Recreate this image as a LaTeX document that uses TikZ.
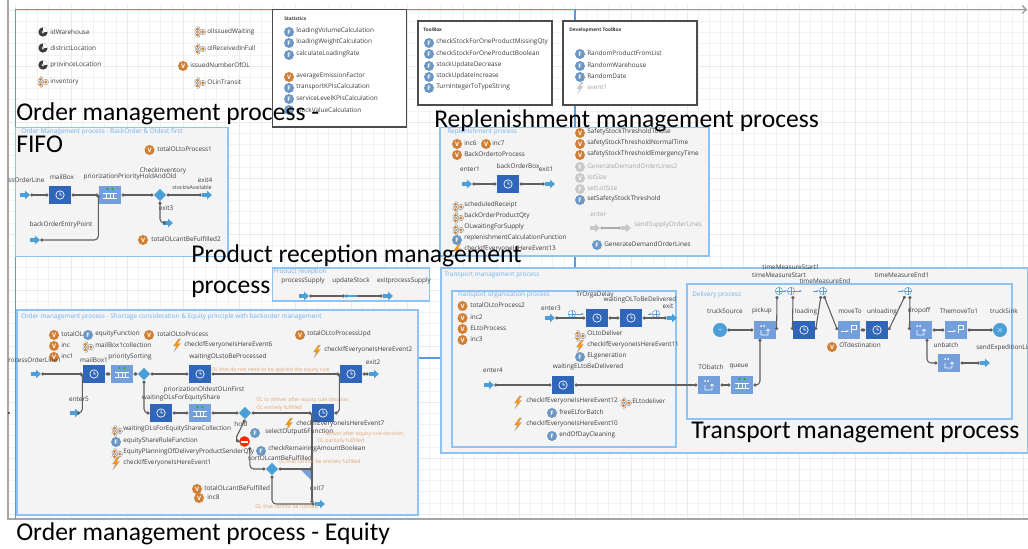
\documentclass[tikz,border=0pt]{standalone}
\usepackage{fontspec}
\newfontfamily\labfont{Open Sans}
\newfontfamily\bigfont{Carlito}
\usetikzlibrary{arrows.meta,shapes.geometric}
\definecolor{panelblue}{HTML}{8CC4F5}
\definecolor{panelgray}{HTML}{F4F4F4}
\definecolor{frameblue}{HTML}{5B9BD5}
\definecolor{gridminor}{HTML}{F2F2F2}
\definecolor{gridmajor}{HTML}{EAEAEA}
\definecolor{linegray}{HTML}{5F5F5F}
\definecolor{labgray}{HTML}{3C3C3C}
\definecolor{titleblue}{HTML}{6DB2F2}
\definecolor{dlyblue}{HTML}{2F66B9}
\definecolor{lightblue}{HTML}{739FDC}
\definecolor{arrowblue}{HTML}{4A9FD8}
\definecolor{varorange}{HTML}{D07F35}
\definecolor{fnblue}{HTML}{6C97C4}
\definecolor{notegold}{HTML}{DCA777}
\definecolor{paleicon}{HTML}{C8C8C8}
\tikzset{
  lab/.style={anchor=west,inner sep=0,text=labgray,font=\labfont\fontsize{4.8pt}{5pt}\selectfont},
  labc/.style={lab,anchor=center},
  palelab/.style={lab,text=gray!70},
  paneltitle/.style={lab,text=titleblue},
  notetext/.style={lab,text=notegold,font=\labfont\fontsize{3.9pt}{4.4pt}\selectfont},
  tinytitle/.style={lab,font=\labfont\bfseries\fontsize{3.6pt}{4pt}\selectfont},
  bigtext/.style={anchor=base west,inner sep=0,text=black,font=\bigfont\fontsize{19.2pt}{21pt}\selectfont},
  panel/.style={draw=panelblue,fill=panelgray,line width=1pt},
  toolbox/.style={draw=gray!60!black,fill=white,line width=.8pt},
  varicon/.style={circle,fill=varorange,text=white,inner sep=0,minimum size=7.5pt,font=\labfont\bfseries\fontsize{4.6pt}{5pt}\selectfont},
  fnicon/.style={varicon,fill=fnblue},
  paleicn/.style={varicon,fill=paleicon},
  paramicon/.style={circle,fill=labgray,inner sep=0,minimum size=7pt,
    path picture={\fill[white,shift={(path picture bounding box.center)}] (0,0) -- (0,-5) -- (5,-5) -- (5,0) -- cycle;
      \fill[gray!40,shift={(path picture bounding box.center)}] (0,0) circle [radius=1.6];}},
  collicon/.style={circle,inner sep=0,minimum size=9pt,
    path picture={\begin{scope}[shift={(path picture bounding box.center)}]
      \draw[gray,fill=white,line width=.3pt] (-2.6,-2.8) circle [radius=2.7];
      \draw[gray,fill=white,line width=.3pt] (-2.6,2.8) circle [radius=2.7];
      \draw[gray,fill=white,line width=.3pt] (2.8,0) circle [radius=2.7];
      \fill[varorange] (-2.6,-2.8) circle [radius=1.7] (-2.6,2.8) circle [radius=1.7] (2.8,0) circle [radius=1.7];
      \end{scope}}},
  evticon/.style={rectangle,inner sep=0,minimum width=7pt,minimum height=10pt,
    path picture={\fill[orange!85!yellow,draw=gray!70,line width=.2pt,shift={(path picture bounding box.center)}]
      (1.5,-6) -- (-3.5,1) -- (-.5,1) -- (-3,6.5) -- (3.5,-1.5) -- (.5,-1.5) -- (3.5,-6) -- cycle;}},
  paleevt/.style={rectangle,inner sep=0,minimum width=7pt,minimum height=10pt,
    path picture={\fill[paleicon,shift={(path picture bounding box.center)}]
      (1.5,-6) -- (-3.5,1) -- (-.5,1) -- (-3,6.5) -- (3.5,-1.5) -- (.5,-1.5) -- (3.5,-6) -- cycle;}},
  dlybox/.style={rectangle,fill=dlyblue,inner sep=0,minimum width=17pt,minimum height=12.8pt,
    path picture={\draw[white,line width=.5pt,shift={(path picture bounding box.center)}]
      (0,0) circle [radius=4.2] (0,-2.6) -- (0,0) -- (2,0);}},
  quebox/.style={rectangle,fill=lightblue,inner sep=0,minimum width=17pt,minimum height=12.8pt,
    path picture={\begin{scope}[shift={(path picture bounding box.center)}]
      \draw[white,line width=.5pt] (-7,-2) -- (7,-2) (-7,3) -- (7,3) (-3.5,-2) -- (-3.5,3) (0,-2) -- (0,3) (3.5,-2) -- (3.5,3);
      \fill[green!75!black] (-2.5,-6) circle [radius=1.2] (2.5,-6) circle [radius=1.2];
      \end{scope}}},
  batchbox/.style={rectangle,fill=lightblue,inner sep=0,minimum width=17pt,minimum height=12.8pt,
    path picture={\begin{scope}[shift={(path picture bounding box.center)}]
      \fill[white] (-4,-4) circle [radius=1] (-1,-4) circle [radius=1];
      \draw[white,line width=.4pt] (-4,5) -- (-4,0) (-4,5) -- (3,5) -- (3,-1) (1,1) -- (3,-1) -- (5,1);
      \end{scope}}},
  movebox/.style={rectangle,fill=lightblue,inner sep=0,minimum width=17pt,minimum height=12.8pt,
    path picture={\begin{scope}[shift={(path picture bounding box.center)}]
      \draw[white,line width=.4pt,-{Stealth[length=2pt]}] (-8,1) -- (0,1);
      \draw[white,line width=.4pt] (2,3) -- (2,-5) -- (7,-5) -- (7,-1) -- (2,-1);
      \end{scope}}},
  tmicon/.style={circle,draw=frameblue,fill=white,line width=.4pt,inner sep=0,minimum size=5.5pt,
    path picture={\draw[frameblue,line width=.3pt] (path picture bounding box.north) -- (path picture bounding box.south)
      (path picture bounding box.west) -- (path picture bounding box.east);}},
  tmarrow/.style={draw=frameblue,line width=.4pt,-{Stealth[length=2pt]}},
  entryarrow/.style={rectangle,inner sep=0,minimum width=7.5pt,minimum height=6.5pt,
    path picture={\fill[arrowblue,shift={(path picture bounding box.center)}]
      (-5,-1.8) -- (0,-1.8) -- (0,-4.3) -- (5,0) -- (0,4.3) -- (0,1.8) -- (-5,1.8) -- cycle;}},
  palearrow/.style={rectangle,inner sep=0,minimum width=7.5pt,minimum height=6.5pt,
    path picture={\fill[paleicon,shift={(path picture bounding box.center)}]
      (-5,-1.8) -- (0,-1.8) -- (0,-4.3) -- (5,0) -- (0,4.3) -- (0,1.8) -- (-5,1.8) -- cycle;}},
  chart/.style={diamond,fill=arrowblue,inner sep=0,minimum width=9.5pt,minimum height=9.5pt},
  stopicon/.style={circle,fill=red!70!orange,inner sep=0,minimum size=8pt,
    path picture={\fill[white,shift={(path picture bounding box.center)}] (-3.5,-1) rectangle (3.5,1);}},
  flow/.style={draw=linegray,line width=.8pt,rounded corners=3pt,{Circle[length=2.3pt]}-{Circle[length=2.3pt]}},
  paleflow/.style={flow,draw=gray!65},
}
\begin{document}
\begin{tikzpicture}[x=0.75pt,y=-0.75pt]
\useasboundingbox (0,0) rectangle (1028,549);
% sheet
\foreach \gx in {0,...,90} \draw[gridminor,line width=.4pt] (15+\gx*11.2,5) -- (15+\gx*11.2,519);
\foreach \gy in {0,...,45} \draw[gridminor,line width=.4pt] (8,10+\gy*11.2) -- (1028,10+\gy*11.2);
\foreach \gx in {0,...,18} \draw[gridmajor,line width=.6pt] (15+\gx*56,5) -- (15+\gx*56,519);
\foreach \gy in {0,...,9} \draw[gridmajor,line width=.6pt] (8,10+\gy*56) -- (1028,10+\gy*56);
\draw[gray!70,line width=.8pt] (8,0) -- (8,519) -- (1028,519);
\draw[gray!80,line width=.9pt,-{Straight Barb[length=3pt]}] (575,9.5) -- (1027,9.5);
\draw[frameblue,line width=.9pt] (15.5,519) -- (15.5,9.5) -- (575,9.5) -- (575,268);
\draw[frameblue,line width=.9pt] (418,358) -- (441,358);
\fill[labgray] (9,413) circle [radius=1.2];
% panels
\draw[toolbox] (272.5,9.5) rectangle (406.5,127);
\draw[toolbox] (418,21) rectangle (552,105);
\draw[toolbox] (563,21) rectangle (697,105);
\draw[panel] (15.5,127.5) rectangle (228,256.5);
\draw[panel] (440,127.5) rectangle (709,256);
\draw[panel] (272.5,268) rectangle (429.5,301);
\draw[panel] (17,310) rectangle (418,515);
\draw[panel] (441,268) rectangle (1028,453);
\draw[panel] (452,291) rectangle (676,447);
\draw[panel] (687,284) rectangle (1012,419);
% simulation parameters
\node[paramicon] (idWare) at (43,32) {};
\node[lab] (idWareLab) at (50,32) {idWarehouse};
\node[paramicon] (district) at (43,48) {};
\node[lab] (districtLab) at (50,48) {districtLocation};
\node[paramicon] (province) at (43,65) {};
\node[lab] (provinceLab) at (50,65) {provinceLocation};
\node[collicon] (inventory) at (43,82) {};
\node[lab] (inventoryLab) at (50,82) {inventory};
\node[collicon] (olIssued) at (200,32) {};
\node[lab] (olIssuedLab) at (207,32) {olIssuedWaiting};
\node[collicon] (olReceived) at (200,49) {};
\node[lab] (olReceivedLab) at (207,48) {olReceivedInFull};
\node[varicon] (issuedNb) at (183,66) {V};
\node[lab] (issuedNbLab) at (190,65) {issuedNumberOfOL};
\node[collicon] (olTransit) at (200,83) {};
\node[lab] (olTransitLab) at (207,82) {OLinTransit};
% statistics
\node[tinytitle] (statTitle) at (284,19) {Statistics};
\node[fnicon] (statA) at (289,32) {F};
\node[lab] (statALab) at (296,31) {loadingVolumeCalculation};
\node[fnicon] (statB) at (289,43) {F};
\node[lab] (statBLab) at (296,42) {loadingWeightCalculation};
\node[fnicon] (statC) at (289,55) {F};
\node[lab] (statCLab) at (296,54) {calculateLoadingRate};
\node[varicon] (statD) at (289,77) {V};
\node[lab] (statDLab) at (296,76) {averageEmissionFactor};
\node[fnicon] (statE) at (289,88) {F};
\node[lab] (statELab) at (296,87) {transportKPIsCalculation};
\node[fnicon] (statF) at (289,99) {F};
\node[lab] (statFLab) at (296,98) {serviceLevelKPIsCalculation};
\node[fnicon] (statG) at (289,110) {F};
\node[lab] (statGLab) at (296,110) {stockValueCalculation};
% toolbox
\node[tinytitle] (toolTitle) at (423,30) {ToolBox};
\node[fnicon] (toolA) at (429,43) {F};
\node[lab] (toolALab) at (436,42) {checkStockForOneProductMissingQty};
\node[fnicon] (toolB) at (429,54) {F};
\node[lab] (toolBLab) at (436,53) {checkStockForOneProductBoolean};
\node[fnicon] (toolC) at (429,66) {F};
\node[lab] (toolCLab) at (436,65) {stockUpdateDecrease};
\node[fnicon] (toolD) at (429,77) {F};
\node[lab] (toolDLab) at (436,76) {stockUpdateIncrease};
\node[fnicon] (toolE) at (429,88) {F};
\node[lab] (toolELab) at (436,87) {TurnIntegerToTypeString};
\node[tinytitle] (devTitle) at (569,30) {Development ToolBox};
\node[fnicon] (devA) at (580,54) {F};
\node[lab] (devALab) at (587,53) {RandomProductFromList};
\node[fnicon] (devB) at (580,66) {F};
\node[lab] (devBLab) at (587,65) {RandomWarehouse};
\node[fnicon] (devC) at (580,77) {F};
\node[lab] (devCLab) at (587,76) {RandomDate};
\node[paleevt] (devD) at (580,88) {};
\node[palelab] (devDLab) at (587,87) {event1};
% backorder and oldest first
\node[paneltitle] (fifoTitle) at (21,132) {Order Management process - BackOrder \& Oldest first};
\node[varicon] (fifoTotal) at (149.5,150) {V};
\node[lab] (fifoTotalLab) at (157,149) {totalOLtoProcess1};
\node[lab] (fifoInLab) at (8,180) {ssOrderLine};
\node[entryarrow] (fifoIn) at (25,195) {};
\node[dlybox] (mailBox) at (60,195) {};
\node[labc] (mailBoxLab) at (62,177) {mailBox};
\node[quebox] (fifoQueue) at (110,195) {};
\node[labc] (fifoQueueLab) at (130,177) {priorizationPriorityHoldAndOld};
\node[chart] (checkInv) at (160,195) {};
\node[labc] (checkInvLab) at (163,171) {CheckInventory};
\node[entryarrow] (fifoOut) at (207,195) {};
\node[labc] (fifoOutLab) at (205,180) {exit4};
\node[labc,font=\labfont\fontsize{4pt}{4.5pt}\selectfont] (stockLab) at (192,188) {stockIsAvailable};
\node[entryarrow] (fifoExit) at (168,223) {};
\node[labc] (fifoExitLab) at (166,208) {exit3};
\node[labc] (backEntryLab) at (61,225) {backOrderEntryPoint};
\node[entryarrow] (backEntry) at (35,240) {};
\node[varicon] (fifoCant) at (143,240) {V};
\node[lab] (fifoCantLab) at (151,239) {totalOLcantBeFulfilled2};
\draw[flow] (fifoIn.east) -- (mailBox.west);
\draw[flow] (mailBox.east) -- (fifoQueue.west);
\draw[flow] (fifoQueue.east) -- (checkInv.west);
\draw[flow] (checkInv.east) -- (fifoOut.west);
\draw[flow] (checkInv.south) |- (fifoExit.west);
\draw[flow] (backEntry.east) -| (fifoQueue.west);
% replenishment
\node[paneltitle] (repTitle) at (447,132) {Replenishment process};
\node[varicon] (inc6) at (457,144) {V};
\node[lab] (inc6Lab) at (464,143) {inc6};
\node[varicon] (inc7) at (486,144) {V};
\node[lab] (inc7Lab) at (492,143) {inc7};
\node[varicon] (backProc) at (457,155) {V};
\node[lab] (backProcLab) at (464,154) {BackOrdertoProcess};
\node[labc] (enter1Lab) at (470,169) {enter1};
\node[entryarrow] (enter1) at (467,184) {};
\node[dlybox] (backBox) at (508,184) {};
\node[labc] (backBoxLab) at (518,166) {backOrderBox};
\node[labc] (exit1Lab) at (546,169) {exit1};
\node[entryarrow] (exit1) at (550,184) {};
\draw[flow] (enter1.east) -- (backBox.west);
\draw[flow] (backBox.east) -- (exit1.west);
\node[collicon] (schedReceipt) at (458,207) {};
\node[lab] (schedReceiptLab) at (464,205) {scheduledReceipt};
\node[collicon] (backQty) at (458,218) {};
\node[lab] (backQtyLab) at (464,216) {backOrderProductQty};
\node[collicon] (olWaiting) at (458,230) {};
\node[lab] (olWaitingLab) at (464,227) {OLwaitingForSupply};
\node[fnicon] (repCalc) at (457,240) {F};
\node[lab] (repCalcLab) at (464,238) {replenishmentCalculationFunction};
\node[evticon] (repEvt) at (457,250) {};
\node[lab] (repEvtLab) at (464,249) {checkIfEveryoneIsHereEvent13};
\node[varicon] (thrLose) at (580,133) {V};
\node[lab] (thrLoseLab) at (587,132) {SafetyStockThresholdTolose};
\node[varicon] (thrNormal) at (580,144) {V};
\node[lab] (thrNormalLab) at (587,143) {safetyStockThresholdNormalTime};
\node[varicon] (thrEmerg) at (580,155) {V};
\node[lab] (thrEmergLab) at (587,154) {safetyStockThresholdEmergencyTime};
\node[paleicn] (genDemand2) at (580,167) {F};
\node[palelab] (genDemand2Lab) at (587,166) {GenerateDemandOrderLines2};
\node[paleicn] (lotSize) at (580,178) {V};
\node[palelab] (lotSizeLab) at (587,177) {lotSize};
\node[paleicn] (setLot) at (580,189) {F};
\node[palelab] (setLotLab) at (587,188) {setLotSize};
\node[fnicon] (setThr) at (580,200) {F};
\node[lab] (setThrLab) at (587,199) {setSafetyStockThreshold};
\node[palelab] (enterLab) at (590,214) {enter};
\node[palearrow] (enterIn) at (595,228) {};
\node[palearrow] (enterOut) at (626,228) {};
\node[palelab] (sendSupplyLab) at (634,225) {sendSupplyOrderLines};
\draw[paleflow] (enterIn.east) -- (enterOut.west);
\node[fnicon] (genDemand) at (597,245) {F};
\node[lab] (genDemandLab) at (604,244) {GenerateDemandOrderLines};
% product reception
\node[paneltitle] (recTitle) at (273,272) {Product reception};
\node[labc] (procSupplyLab) at (303,281) {processSupply};
\node[labc] (updStockLab) at (351,281) {updateStock};
\node[labc] (exitSupplyLab) at (404,281) {exitprocessSupply};
\node[entryarrow] (procSupply) at (304,296) {};
\node[entryarrow] (exitSupply) at (388,296) {};
\coordinate (updStock) at (345,296);
\draw[flow] (procSupply.east) -- (updStock);
\draw[flow] (updStock) -- (exitSupply.west);
\draw[arrowblue,line width=.8pt] (updStock) -- ++(12,0);
% equity
\node[paneltitle] (eqTitle) at (21,317) {Order management process - Shortage consideration \& Equity principle with backorder management};
\node[varicon] (totalOL) at (54,335) {V};
\node[lab] (totalOLLab) at (61,334) {totalOL};
\node[fnicon] (eqFun) at (88,335) {F};
\node[lab] (eqFunLab) at (95,334) {equityFunction};
\node[varicon] (totalProc) at (149,335) {V};
\node[lab] (totalProcLab) at (157,334) {totalOLtoProcess};
\node[evticon] (evt6) at (177,345) {};
\node[lab] (evt6Lab) at (184,345) {checkIfEveryoneIsHereEvent6};
\node[varicon] (inc) at (54,346) {V};
\node[lab] (incLab) at (61,345) {inc};
\node[collicon] (mailColl) at (88,347) {};
\node[lab] (mailCollLab) at (95,345) {mailBox1collection};
\node[varicon] (inc1) at (54,357) {V};
\node[lab] (inc1Lab) at (61,356) {inc1};
\node[varicon] (totalUpd) at (300,335) {V};
\node[lab] (totalUpdLab) at (307,334) {totalOLtoProcessUpd};
\node[evticon] (evt2) at (317,351) {};
\node[lab] (evt2Lab) at (324,350) {checkIfEveryoneIsHereEvent2};
\node[lab] (procInLab) at (8,360) {rocessOrderLine1};
\node[entryarrow] (procIn) at (36,374) {};
\node[dlybox] (mailBox1) at (94,374) {};
\node[labc] (mailBox1Lab) at (94,360) {mailBox1};
\node[quebox] (prioSort) at (122,374) {};
\node[labc] (prioSortLab) at (130,357) {prioritySorting};
\node[chart] (eqChart) at (144,374) {};
\node[dlybox] (waitProc) at (200,374) {};
\node[labc] (waitProcLab) at (228,357) {waitingOLstoBeProcessed};
\node[dlybox] (eqMerge) at (351,374) {};
\node[labc] (exit2Lab) at (373,362) {exit2};
\node[entryarrow] (exit2) at (374,374) {};
\node[notetext] (noteNoRule) at (211,370) {OL that do not need to be applied the equity rule};
\node[labc] (enter5Lab) at (79,399) {enter5};
\node[entryarrow] (enter5) at (75,413) {};
\node[dlybox] (waitShare) at (161,413) {};
\node[quebox] (prioOld) at (200,413) {};
\node[labc] (prioOldLab) at (204,390) {priorizationOldestOLinFirst};
\node[labc] (waitShareLab) at (181,398) {waitingOLsForEquityShare};
\node[chart] (hold) at (245,413) {};
\node[labc] (holdLab) at (241,424) {hold};
\node[dlybox] (eqDeliver) at (323,413) {};
\node[notetext] (noteFull) at (256,400) {OL to deliver after equity rule decision,};
\node[notetext] (noteFullB) at (256,408) {OL entirely fulfilled};
\node[stopicon] (holdStop) at (244.5,441.5) {};
\node[chart] (sortCant) at (272,469) {};
\node[labc] (sortCantLab) at (280,458) {sortOLcantBeFulfilled};
\coordinate (exit7Join) at (312,469);
\coordinate (exit7Top) at (312,413);
\coordinate (exit7Low) at (312,503);
\node[entryarrow] (exit7) at (320,504) {};
\node[labc] (exit7Lab) at (317,488) {exit7};
\fill[lightblue] (300,469) -- (312,469) -- (312,481) -- cycle;
\draw[flow] (procIn.east) -- (mailBox1.west);
\draw[flow] (enter5.east) -| (mailBox1.west);
\draw[flow] (mailBox1.east) -- (prioSort.west);
\draw[flow] (prioSort.east) -- (eqChart.west);
\draw[flow] (eqChart.east) -- (waitProc.west);
\draw[flow] (eqChart.south) |- (waitShare.west);
\draw[flow] (waitShare.east) -- (prioOld.west);
\draw[flow] (waitProc.east) -- (eqMerge.west);
\draw[flow] (eqMerge.east) -- (exit2.west);
\draw[flow] (prioOld.east) -- (hold.west);
\draw[flow] (hold.east) -- (eqDeliver.west);
\draw[flow] (eqDeliver.east) -| (eqMerge.west);
\draw[flow] (hold.south) -- (235,440) -- (holdStop.west);
\draw[flow] ([xshift=4pt]holdStop.south) |- (sortCant.west);
\draw[flow] (sortCant.east) -- (exit7Join);
\draw[flow] (sortCant.south) |- (exit7.west);
\draw[flow] (exit7Top) -- (exit7Low);
\node[evticon] (evt7) at (289,424) {};
\node[lab] (evt7Lab) at (296,424) {checkIfEveryoneIsHereEvent7};
\node[fnicon] (selFun) at (255,433) {F};
\node[lab] (selFunLab) at (265,432) {selectOutput6Function};
\node[fnicon] (chkBool) at (261,451) {F};
\node[lab] (chkBoolLab) at (268,449) {checkRemainingAmountBoolean};
\node[notetext] (notePart) at (325,434) {deliver after equity rule decision,};
\node[notetext] (notePartB) at (317,441) {OL partially fulfilled};
\node[notetext] (noteNotEnt) at (278,462) {OL that cannot be entirely fulfilled};
\node[notetext] (noteNot) at (255,507) {OL that cannot be fulfilled};
\node[collicon] (waitColl) at (117,431) {};
\node[lab] (waitCollLab) at (123,429) {waitingOLsForEquityShareCollection};
\node[fnicon] (shareFun) at (116,442) {F};
\node[lab] (shareFunLab) at (123,441) {equityShareRuleFunction};
\node[collicon] (planColl) at (117,454) {};
\node[lab] (planCollLab) at (123,452) {EquityPlanningOfDeliveryProductSenderQty};
\node[evticon] (evt1) at (116,463) {};
\node[lab] (evt1Lab) at (123,463) {checkIfEveryoneIsHereEvent1};
\node[varicon] (totalCant) at (197,489) {V};
\node[lab] (totalCantLab) at (204,488) {totalOLcantBeFulfilled};
\node[varicon] (inc8) at (199,498) {V};
\node[lab] (inc8Lab) at (207,497) {inc8};
% transport organization
\node[paneltitle] (trTitle) at (444,275) {Transport management process};
\node[paneltitle] (orgTitle) at (457,295) {Transport organization process};
\node[varicon] (totalOL2) at (462.5,306) {V};
\node[lab] (totalOL2Lab) at (470,305) {totalOLtoProcess2};
\node[varicon] (inc2) at (462.5,318) {V};
\node[lab] (inc2Lab) at (470,317) {inc2};
\node[varicon] (elProc) at (462.5,329) {V};
\node[lab] (elProcLab) at (470,328) {ELtoProcess};
\node[varicon] (inc3) at (462.5,340) {V};
\node[lab] (inc3Lab) at (470,339) {inc3};
\node[labc] (enter3Lab) at (551,308) {enter3};
\node[entryarrow] (enter3) at (550,318) {};
\node[dlybox] (trDelay) at (597,318) {};
\node[labc] (trDelayLab) at (595,295) {TrOrgaDelay};
\node[dlybox] (waitOL) at (631,318) {};
\node[labc] (waitOLLab) at (640,300) {waitingOLToBeDelivered};
\node[labc] (orgExitLab) at (668,306) {exit};
\node[entryarrow] (orgExit) at (672,318) {};
\node[tmicon] (orgTmA) at (572,314) {};
\node[tmicon] (orgTmB) at (656,314) {};
\draw[tmarrow] (orgTmA.east) -- ++(8,0);
\draw[tmarrow] (648,314) -- (orgTmB.west);
\draw[flow] (enter3.east) -- (trDelay.west);
\draw[flow] (trDelay.east) -- (waitOL.west);
\draw[flow] (waitOL.east) -- (orgExit.west);
\node[collicon] (olDeliver) at (580,336) {};
\node[lab] (olDeliverLab) at (587,333) {OLtoDeliver};
\node[evticon] (evt11) at (580,346) {};
\node[lab] (evt11Lab) at (587,345) {checkIfEveryoneIsHereEvent11};
\node[fnicon] (elGen) at (580,357) {F};
\node[lab] (elGenLab) at (587,356) {ELgeneration};
\node[labc] (enter4Lab) at (493,370) {enter4};
\node[entryarrow] (enter4) at (489,385) {};
\node[dlybox] (waitEL) at (563,385) {};
\node[labc] (waitELLab) at (588,367) {waitingELtoBeDelivered};
\node[evticon] (evt12) at (518,402) {};
\node[lab] (evt12Lab) at (526,401) {checkIfEveryoneIsHereEvent12};
\node[fnicon] (freeEL) at (552,413) {F};
\node[lab] (freeELLab) at (559,412) {freeELforBatch};
\node[evticon] (evt10) at (518,424) {};
\node[lab] (evt10Lab) at (526,424) {checkIfEveryoneIsHereEvent10};
\node[fnicon] (endDay) at (552,436) {F};
\node[lab] (endDayLab) at (559,435) {endOfDayCleaning};
\node[collicon] (elDeliver) at (626,403) {};
\node[lab] (elDeliverLab) at (632,401) {ELtodeliver};
% delivery
\node[paneltitle] (delTitle) at (692,295) {Delivery process};
\node[circle,fill=arrowblue,text=white,inner sep=0,minimum size=10.5pt,font=\fontsize{4pt}{4pt}\selectfont] (truckSource) at (720,330) {+};
\node[labc] (truckSourceLab) at (725,311) {truckSource};
\node[batchbox] (pickup) at (765,330) {};
\node[labc] (pickupLab) at (762,311) {pickup};
\node[dlybox] (loading) at (804,330) {};
\node[labc] (loadingLab) at (806,312) {loading};
\node[movebox] (moveTo) at (849,330) {};
\node[labc] (moveToLab) at (850,311) {moveTo};
\node[dlybox] (unloading) at (877,330) {};
\node[labc] (unloadingLab) at (882,312) {unloading};
\node[batchbox] (dropoff) at (921,330) {};
\node[labc] (dropoffLab) at (919,311) {dropoff};
\node[movebox] (moveTo1) at (956,330) {};
\node[labc] (moveTo1Lab) at (959,311) {ThemoveTo1};
\node[circle,fill=arrowblue,text=white,inner sep=0,minimum size=10.5pt,font=\fontsize{6pt}{6pt}\selectfont] (truckSink) at (1000,330) {$\times$};
\node[labc] (truckSinkLab) at (1004,311) {truckSink};
\node[batchbox] (unbatch) at (949,363) {};
\node[labc] (unbatchLab) at (946,345) {unbatch};
\node[entryarrow] (sendExp) at (985,363) {};
\node[lab] (sendExpLab) at (976,348) {sendExpeditionLin};
\node[batchbox] (toBatch) at (709,385) {};
\node[labc] (toBatchLab) at (711,367) {TObatch};
\node[quebox] (queue) at (742,385) {};
\node[labc] (queueLab) at (739,367) {queue};
\node[varicon] (otDest) at (832,347) {V};
\node[lab] (otDestLab) at (839,345) {OTdestination};
\node[tmicon] (tmStart1) at (779,291) {};
\node[tmicon] (tmStart) at (791,291) {};
\node[tmicon] (tmEnd) at (823,291) {};
\node[tmicon] (tmEnd1) at (908,291) {};
\node[labc] (tmStart1Lab) at (791,267) {timeMeasureStart1};
\node[labc] (tmStartLab) at (779,275) {timeMeasureStart};
\node[labc] (tmEndLab) at (825,281) {timeMeasureEnd};
\node[labc] (tmEnd1Lab) at (902,275) {timeMeasureEnd1};
\coordinate (tmStart1In) at (777,296);
\coordinate (tmStartOut) at (793,296);
\coordinate (tmEndIn) at (821,296);
\coordinate (tmEndOut) at (824,296);
\coordinate (tmEnd1In) at (905,296);
\coordinate (tmEnd1Out) at (910,296);
\draw[tmarrow] (tmStart1.east) -- (tmStart.west);
\draw[tmarrow] (tmStart.east) -- ++(7,0);
\draw[tmarrow] (813,291) -- (tmEnd.west);
\draw[tmarrow] (898,291) -- (tmEnd1.west);
\draw[flow] (waitEL.east) -- (toBatch.west);
\draw[flow] (enter4.east) -- (waitEL.west);
\draw[flow] (toBatch.east) -- (queue.west);
\draw[flow] (queue.east) -| ([xshift=-3.75pt]pickup.south);
\draw[flow] (truckSource.east) -- (pickup.west);
\draw[flow] (pickup.east) -- (tmStart1In);
\draw[flow] (tmStartOut) -- (loading.west);
\draw[flow] (loading.east) -- (tmEndIn);
\draw[flow] (tmEndOut) -- (moveTo.west);
\draw[flow] (moveTo.east) -- (unloading.west);
\draw[flow] (unloading.east) -- (tmEnd1In);
\draw[flow] (tmEnd1Out) -- (dropoff.west);
\draw[flow] (dropoff.east) -- (moveTo1.west);
\draw[flow] (moveTo1.east) -- (truckSink.west);
\draw[flow] ([xshift=4.5pt]dropoff.south) |- (unbatch.west);
\draw[flow] (unbatch.east) -- (sendExp.west);
% captions
\node[bigtext] (capFifo) at (16,121) {Order management process -};
\node[bigtext] (capFifoB) at (16,153) {FIFO};
\node[bigtext] (capRep) at (434,128) {Replenishment management process};
\node[bigtext] (capRec) at (191,262) {Product reception management};
\node[bigtext] (capRecB) at (191,293) {process};
\node[bigtext] (capTr) at (691,438) {Transport management process};
\node[bigtext] (capEq) at (16,540) {Order management process - Equity};
\end{tikzpicture}
\end{document}
